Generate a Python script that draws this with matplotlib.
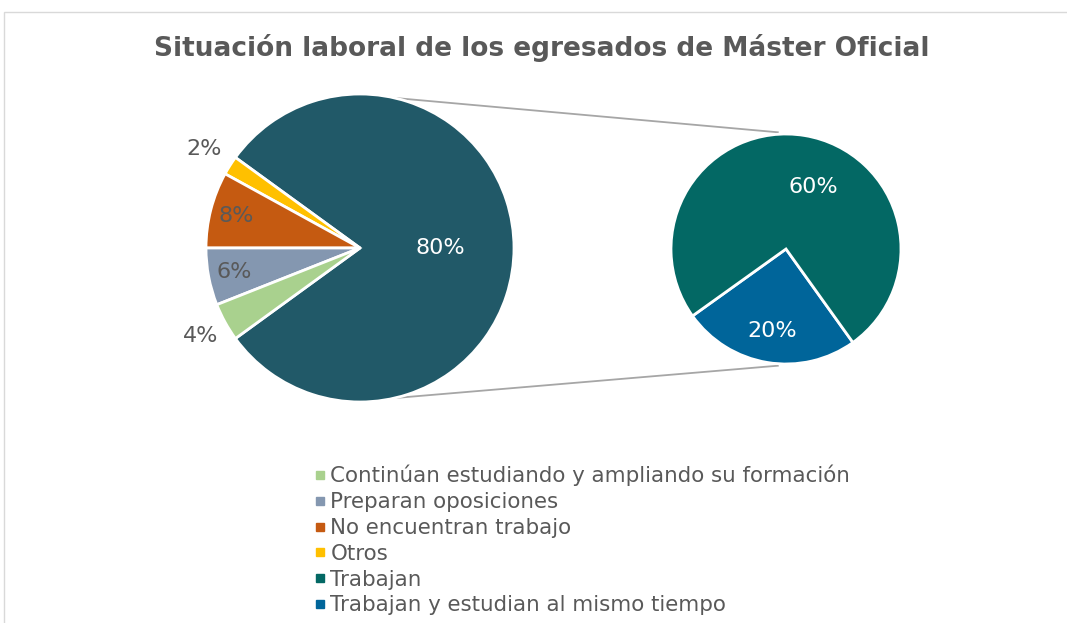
import numpy as np
import matplotlib.pyplot as plt
from matplotlib.lines import Line2D
from matplotlib.patches import Rectangle

title = 'Situación laboral de los egresados de Máster Oficial'

# main pie: the aggregated slice first, then the small categories
main_labels = ['Trabajan (total)', 'Otros', 'No encuentran trabajo',
               'Preparan oposiciones', 'Continúan estudiando y ampliando su formación']
main_values = [80, 2, 8, 6, 4]
main_colors = ['#215968', '#FFC000', '#C55A11', '#8497B0', '#A9D18E']

# secondary pie (breakdown of the aggregated slice)
sub_labels = ['Trabajan y estudian al mismo tiempo', 'Trabajan']
sub_values = [20, 60]
sub_colors = ['#00659A', '#036864']

legend_labels = ['Continúan estudiando y ampliando su formación', 'Preparan oposiciones',
                 'No encuentran trabajo', 'Otros', 'Trabajan',
                 'Trabajan y estudian al mismo tiempo']
legend_colors = ['#A9D18E', '#8497B0', '#C55A11', '#FFC000', '#036864', '#00659A']

W, H = 1067, 623
fig = plt.figure(figsize=(W / 100, H / 100), dpi=100)
ax = fig.add_axes([0, 0, 1, 1])

grey_txt = '#595959'

# left pie
c1, r1 = (360, H - 248), 154
start = -main_values[0] / 100 * 360 / 2
w1, _ = ax.pie(main_values, colors=main_colors, startangle=start, counterclock=True,
               center=c1, radius=r1, wedgeprops=dict(edgecolor='white', linewidth=2))
dist1 = [0.52, 1.2, 0.83, 0.83, 1.18]
col1 = ['white', grey_txt, grey_txt, grey_txt, grey_txt]
for w, v, d, c in zip(w1, main_values, dist1, col1):
    a = np.deg2rad((w.theta1 + w.theta2) / 2)
    ax.text(c1[0] + d * r1 * np.cos(a), c1[1] + d * r1 * np.sin(a), f'{v}%',
            ha='center', va='center', fontsize=16, color=c)

# right pie
c2, r2 = (786, H - 249), 115
w2, _ = ax.pie(sub_values, colors=sub_colors, startangle=215.6, counterclock=True,
               center=c2, radius=r2, wedgeprops=dict(edgecolor='white', linewidth=2))
ang2 = [None, 66.5]
dist2 = [0.72, 0.59]
for w, v, d, an in zip(w2, sub_values, dist2, ang2):
    a = np.deg2rad(an if an is not None else (w.theta1 + w.theta2) / 2)
    ax.text(c2[0] + d * r2 * np.cos(a), c2[1] + d * r2 * np.sin(a), f'{v}%',
            ha='center', va='center', fontsize=16, color='white')

# connector lines
for s in (1, -1):
    a1 = np.deg2rad(77 * s)
    a2 = np.deg2rad(94 * s)
    ax.plot([c1[0] + r1 * np.cos(a1), c2[0] + (r2 + 2) * np.cos(a2)],
            [c1[1] + r1 * np.sin(a1), c2[1] + (r2 + 2) * np.sin(a2)],
            color='#A6A6A6', lw=1.3, zorder=0)

ax.set_xlim(0, W)
ax.set_ylim(0, H)
ax.set_aspect('equal')
ax.axis('off')

fig.text(542 / W, 1 - 48 / H, title, ha='center', va='center', fontsize=19,
         fontweight='bold', color=grey_txt)

handles = [Line2D([], [], marker='s', linestyle='none', markersize=6, color=c)
           for c in legend_colors]
fig.legend(handles, legend_labels, loc='upper left', bbox_to_anchor=(311 / W, 1 - 465 / H),
           frameon=False, fontsize=15.4, labelcolor=grey_txt, handletextpad=0.1,
           labelspacing=0.27, borderpad=0, borderaxespad=0, handlelength=0.8)

fig.patches.append(Rectangle((4 / W, -0.1), 1.2, (H - 12) / H + 0.1, transform=fig.transFigure,
                             fill=False, edgecolor='#D9D9D9', lw=1))

fig.savefig('out.png', dpi=100)
